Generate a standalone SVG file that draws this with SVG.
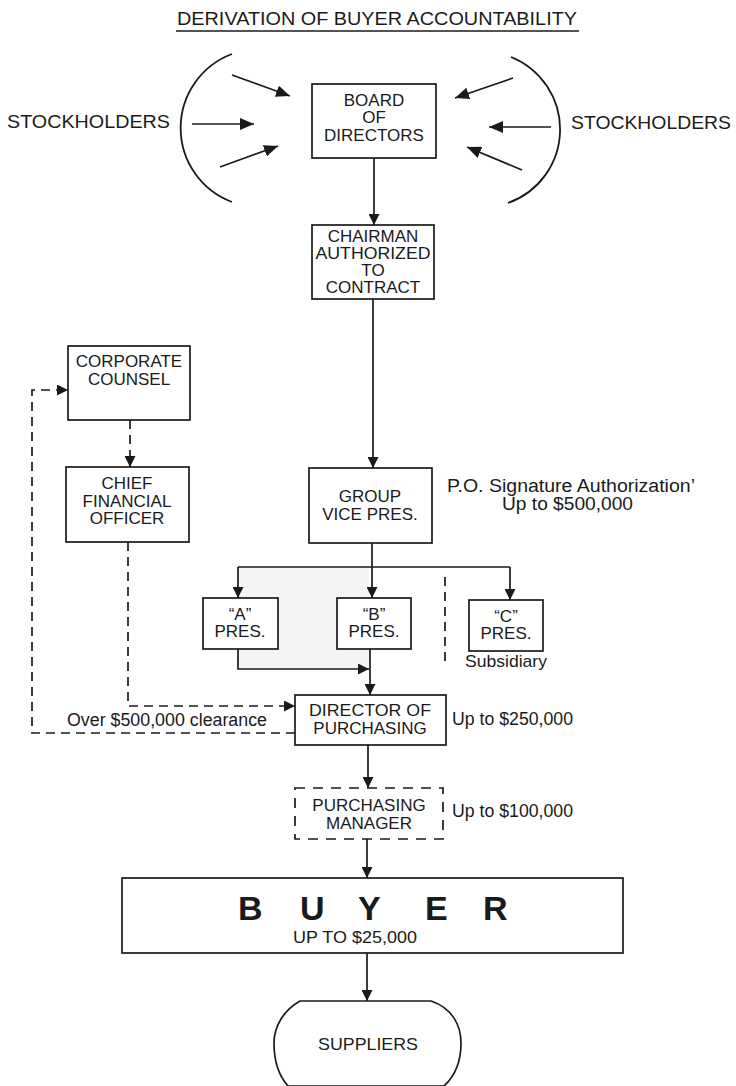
<svg xmlns="http://www.w3.org/2000/svg" width="736" height="1086" viewBox="0 0 736 1086">
  <style>
    text { font-family: "Liberation Sans", Arial, Helvetica, sans-serif; fill: #1a1a1a; }
    .box { fill: #fff; stroke: #1a1a1a; stroke-width: 1.7; }
    .dbox { fill: #fff; stroke: #1a1a1a; stroke-width: 1.7; stroke-dasharray: 10 8; }
    .lbl { font-size: 17px; text-anchor: middle; }
    .note { font-size: 18px; }
    .big { font-size: 19px; }
    .line { fill: none; stroke: #1a1a1a; stroke-width: 1.7; }
    .dash { fill: none; stroke: #1a1a1a; stroke-width: 1.7; stroke-dasharray: 9 6; }
    .arc { fill: none; stroke: #1a1a1a; stroke-width: 1.8; }
  </style>
  <defs>
    <marker id="ah" markerUnits="userSpaceOnUse" markerWidth="11" markerHeight="11" refX="11" refY="5.5" orient="auto">
      <path d="M0,0 L11,5.5 L0,11 z" fill="#1a1a1a"/>
    </marker>
    <marker id="ahBig" markerUnits="userSpaceOnUse" markerWidth="14" markerHeight="12" refX="14" refY="6" orient="auto">
      <path d="M0,0 L14,6 L0,12 z" fill="#1a1a1a"/>
    </marker>
  </defs>

  <rect width="736" height="1086" fill="#fff"/>

  <!-- title -->
  <g id="title">
    <text x="377" y="25" font-size="18" text-anchor="middle" textLength="400" lengthAdjust="spacingAndGlyphs">DERIVATION OF BUYER ACCOUNTABILITY</text>
    <line x1="176" y1="31" x2="579" y2="31" stroke="#1a1a1a" stroke-width="1.6"/>
  </g>

  <!-- light tint between the A and B presidents -->
  <rect x="238" y="567" width="131" height="102" fill="#f4f4f4"/>

  <!-- stockholders -->
  <g id="stockholders-left">
    <path class="arc" d="M232 54 A79 79 0 0 0 232 202"/>
    <text class="big" x="7" y="128" textLength="163" lengthAdjust="spacingAndGlyphs">STOCKHOLDERS</text>
  </g>
  <g id="stockholders-right">
    <path class="arc" d="M511 57 A78 78 0 0 1 508 203"/>
    <text class="big" x="571" y="129" textLength="160" lengthAdjust="spacingAndGlyphs">STOCKHOLDERS</text>
  </g>

  <g id="connectors">
    <!-- stockholder inputs -->
    <path class="line" d="M232 75 L290 96" stroke-width="2" marker-end="url(#ahBig)"/>
    <path class="line" d="M192 124 L254 124" stroke-width="2" marker-end="url(#ahBig)"/>
    <path class="line" d="M220 167 L278 146" stroke-width="2" marker-end="url(#ahBig)"/>
    <path class="line" d="M513 78 L455 98" stroke-width="2" marker-end="url(#ahBig)"/>
    <path class="line" d="M551 127 L489 127" stroke-width="2" marker-end="url(#ahBig)"/>
    <path class="line" d="M522 170 L467 147" stroke-width="2" marker-end="url(#ahBig)"/>

    <!-- main chain -->
    <path class="line" d="M374 158 V225" marker-end="url(#ah)"/>
    <path class="line" d="M373 299 V468" marker-end="url(#ah)"/>
    <path class="line" d="M372 543 V598" marker-end="url(#ah)"/>
    <path class="line" d="M238 567 H510"/>
    <path class="line" d="M238 567 V598" marker-end="url(#ah)"/>
    <path class="line" d="M510 567 V600" marker-end="url(#ah)"/>
    <path class="line" d="M238 649 V669 H369" marker-end="url(#ah)"/>
    <path class="line" d="M370 649 V695" marker-end="url(#ah)"/>
    <path class="line" d="M368 745 V788" marker-end="url(#ah)"/>
    <path class="line" d="M367 839 V878" marker-end="url(#ah)"/>
    <path class="line" d="M367 953 V1001" marker-end="url(#ah)"/>

    <!-- subsidiary separator -->
    <path class="dash" d="M445 577 V663" stroke-dasharray="9 10"/>

    <!-- counsel / finance clearance -->
    <path class="dash" d="M130 420 V467" marker-end="url(#ah)"/>
    <path class="dash" d="M128 542 V706 H295" marker-end="url(#ah)"/>
    <path class="dash" d="M295 733 H32 V390 H68" marker-end="url(#ah)"/>
  </g>

  <g id="board">
    <rect class="box" x="312" y="84" width="124" height="74"/>
    <text class="lbl" x="374" y="106">BOARD</text>
    <text class="lbl" x="374" y="123">OF</text>
    <text class="lbl" x="374" y="141">DIRECTORS</text>
  </g>

  <g id="chairman">
    <rect class="box" x="312" y="225" width="122" height="74"/>
    <text class="lbl" x="373" y="242">CHAIRMAN</text>
    <text class="lbl" x="373" y="259" textLength="115" lengthAdjust="spacingAndGlyphs">AUTHORIZED</text>
    <text class="lbl" x="373" y="276">TO</text>
    <text class="lbl" x="373" y="293">CONTRACT</text>
  </g>

  <g id="corporate-counsel">
    <rect class="box" x="68" y="346" width="122" height="74"/>
    <text class="lbl" x="129" y="367">CORPORATE</text>
    <text class="lbl" x="129" y="385">COUNSEL</text>
  </g>

  <g id="cfo">
    <rect class="box" x="66" y="467" width="123" height="75"/>
    <text class="lbl" x="127" y="489">CHIEF</text>
    <text class="lbl" x="127" y="507">FINANCIAL</text>
    <text class="lbl" x="127" y="524">OFFICER</text>
  </g>

  <g id="group-vp">
    <rect class="box" x="309" y="468" width="123" height="75"/>
    <text class="lbl" x="370" y="502">GROUP</text>
    <text class="lbl" x="370" y="520">VICE PRES.</text>
    <text class="note" x="447" y="492" textLength="248" lengthAdjust="spacingAndGlyphs">P.O. Signature Authorization’</text>
    <text class="note" x="502" y="510" textLength="131" lengthAdjust="spacingAndGlyphs">Up to $500,000</text>
  </g>

  <g id="pres-a">
    <rect class="box" x="203" y="598" width="75" height="51"/>
    <text class="lbl" x="240" y="620">“A”</text>
    <text class="lbl" x="240" y="637">PRES.</text>
  </g>

  <g id="pres-b">
    <rect class="box" x="337" y="598" width="74" height="51"/>
    <text class="lbl" x="374" y="620">“B”</text>
    <text class="lbl" x="374" y="637">PRES.</text>
  </g>

  <g id="pres-c">
    <rect class="box" x="469" y="600" width="74" height="51"/>
    <text class="lbl" x="506" y="622">“C”</text>
    <text class="lbl" x="506" y="639">PRES.</text>
    <text class="lbl" x="506" y="667" textLength="82" lengthAdjust="spacingAndGlyphs">Subsidiary</text>
  </g>

  <g id="director-purchasing">
    <rect class="box" x="295" y="695" width="151" height="50"/>
    <text class="lbl" x="370" y="716" textLength="122" lengthAdjust="spacingAndGlyphs">DIRECTOR OF</text>
    <text class="lbl" x="370" y="734">PURCHASING</text>
    <text class="note" x="452" y="725" textLength="121" lengthAdjust="spacingAndGlyphs">Up to $250,000</text>
    <text class="note" x="67" y="726" textLength="200" lengthAdjust="spacingAndGlyphs">Over $500,000 clearance</text>
  </g>

  <g id="purchasing-manager">
    <rect class="dbox" x="295" y="788" width="148" height="51"/>
    <text class="lbl" x="369" y="811">PURCHASING</text>
    <text class="lbl" x="369" y="829">MANAGER</text>
    <text class="note" x="452" y="817" textLength="121" lengthAdjust="spacingAndGlyphs">Up to $100,000</text>
  </g>

  <g id="buyer">
    <rect class="box" x="122" y="878" width="501" height="75"/>
    <text x="238 300 358 425 483" y="920" font-size="34" font-weight="bold">BUYER</text>
    <text x="355" y="943" font-size="17" text-anchor="middle" textLength="124" lengthAdjust="spacingAndGlyphs">UP TO $25,000</text>
  </g>

  <g id="suppliers">
    <path class="box" d="M300 1001 L431 1001 C452 1008 461 1025 461 1043 C461 1062 455 1076 444 1086 L288 1086 C279 1076 274 1060 274 1043 C274 1026 284 1010 300 1001 Z"/>
    <text class="lbl" x="368" y="1050" textLength="100" lengthAdjust="spacingAndGlyphs">SUPPLIERS</text>
  </g>
</svg>
